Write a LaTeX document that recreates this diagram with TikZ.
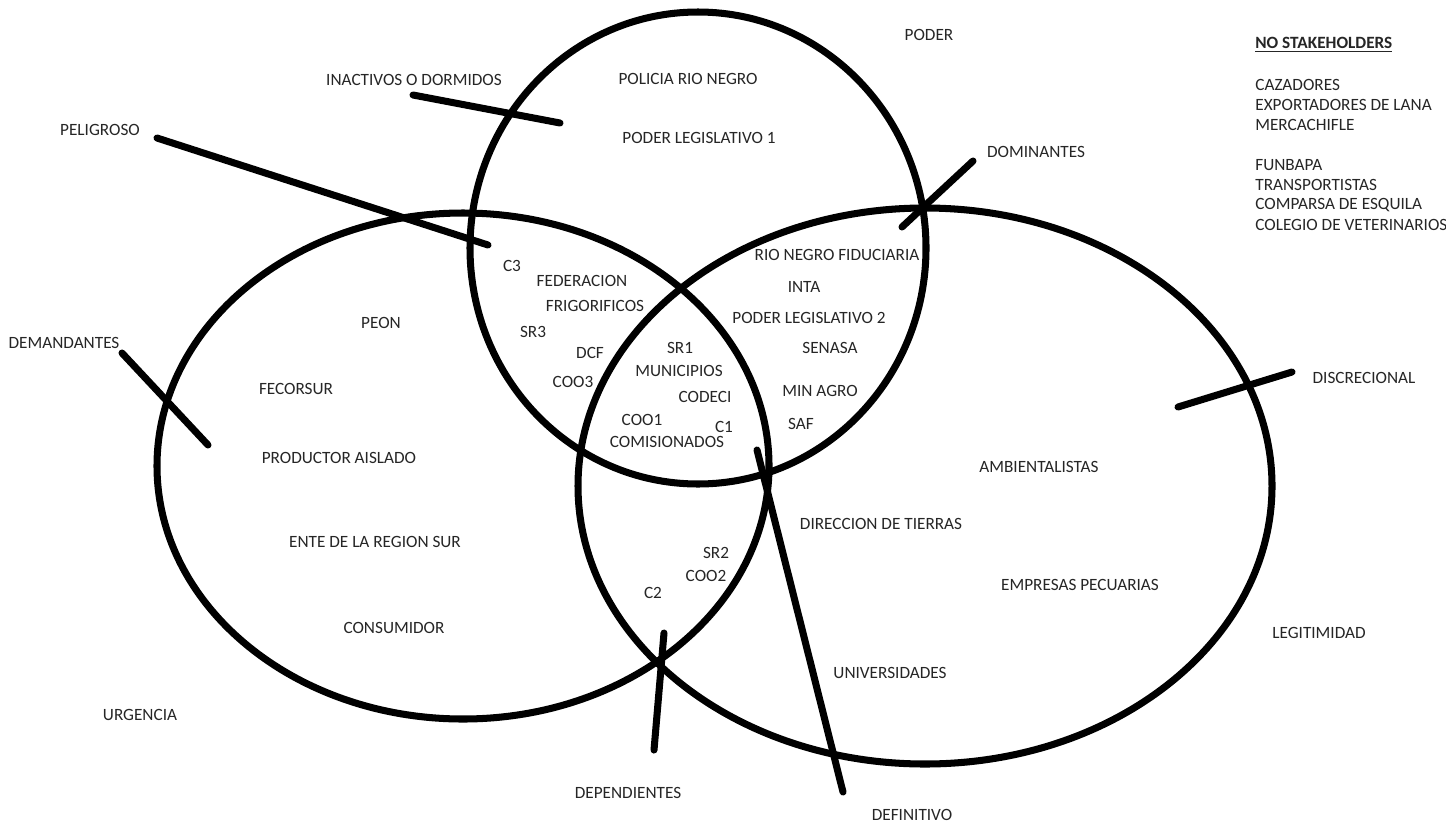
\documentclass[tikz,border=0pt]{standalone}
\usepackage{fontspec}
\setmainfont{Carlito}
\begin{document}
\begin{tikzpicture}[x=0.02cm,y=-0.02cm,
  lbl/.style={font=\fontsize{9.8}{11}\selectfont, inner sep=0pt, text=black!85},
  lst/.style={lbl, anchor=west},
  stroke/.style={line width=4pt, line cap=round, black}]
\useasboundingbox[fill=white] (0,0) rectangle (1446,825);
% sets
\draw[stroke] (698,248) ellipse [x radius=228, y radius=236];
\draw[stroke] (463,466) ellipse [x radius=306, y radius=253];
\draw[stroke] (925,486) ellipse [x radius=347, y radius=278];
% crossing strokes
\coordinate (ina1) at (413,95);   \coordinate (ina2) at (560,123);
\coordinate (pel1) at (157,138);  \coordinate (pel2) at (488,245);
\coordinate (dom1) at (902,227);  \coordinate (dom2) at (973,161);
\coordinate (dem1) at (122,353);  \coordinate (dem2) at (208,445);
\coordinate (dis1) at (1178,407); \coordinate (dis2) at (1292,372);
\coordinate (dep1) at (664,633);  \coordinate (dep2) at (654,750);
\coordinate (def1) at (757,450);  \coordinate (def2) at (843,792);
\draw[stroke] (ina1) -- (ina2);
\draw[stroke] (pel1) -- (pel2);
\draw[stroke] (dom1) -- (dom2);
\draw[stroke] (dem1) -- (dem2);
\draw[stroke] (dis1) -- (dis2);
\draw[stroke] (dep1) -- (dep2);
\draw[stroke] (def1) -- (def2);
% outer labels
\node[lbl] (poder) at (929,35) {PODER};
\node[lbl] (inact) at (414,80) {INACTIVOS O DORMIDOS};
\node[lbl] (pelig) at (100,130) {PELIGROSO};
\node[lbl] (domin) at (1036,152) {DOMINANTES};
\node[lbl] (deman) at (64,343) {DEMANDANTES};
\node[lbl] (discr) at (1364,378) {DISCRECIONAL};
\node[lbl] (legit) at (1319,633) {LEGITIMIDAD};
\node[lbl] (urgen) at (140,715) {URGENCIA};
\node[lbl] (depen) at (628,793) {DEPENDIENTES};
\node[lbl] (defin) at (912,815) {DEFINITIVO};
% no stakeholders
\node[lst] (nosh) at (1255,45) {\underline{\textbf{NO STAKEHOLDERS}}};
\node[lst] (caz) at (1255,85) {CAZADORES};
\node[lst] (exp) at (1255,105) {EXPORTADORES DE LANA};
\node[lst] (mer) at (1255,125) {MERCACHIFLE};
\node[lst] (fun) at (1255,165) {FUNBAPA};
\node[lst] (tra) at (1255,185) {TRANSPORTISTAS};
\node[lst] (com) at (1255,205) {COMPARSA DE ESQUILA};
\node[lst] (col) at (1255,225) {COLEGIO DE VETERINARIOS};
% poder only
\node[lbl] (pol) at (688,79) {POLICIA RIO NEGRO};
\node[lbl] (pl1) at (699,138) {PODER LEGISLATIVO 1};
% poder + urgencia
\node[lbl] (c3) at (512,266) {C3};
\node[lbl] (fed) at (582,281) {FEDERACION};
\node[lbl] (fri) at (595,306) {FRIGORIFICOS};
\node[lbl] (sr3) at (533,332) {SR3};
\node[lbl] (dcf) at (590,353) {DCF};
\node[lbl] (coo3) at (573,382) {COO3};
% all three
\node[lbl] (sr1) at (680,348) {SR1};
\node[lbl] (mun) at (679,371) {MUNICIPIOS};
\node[lbl] (cod) at (705,397) {CODECI};
\node[lbl] (coo1) at (642,420) {COO1};
\node[lbl] (c1) at (724,427) {C1};
\node[lbl] (comi) at (667,442) {COMISIONADOS};
% poder + legitimidad
\node[lbl] (rnf) at (837,255) {RIO NEGRO FIDUCIARIA};
\node[lbl] (inta) at (804,287) {INTA};
\node[lbl] (pl2) at (809,318) {PODER LEGISLATIVO 2};
\node[lbl] (sen) at (830,348) {SENASA};
\node[lbl] (min) at (820,391) {MIN AGRO};
\node[lbl] (saf) at (801,424) {SAF};
% urgencia only
\node[lbl] (peon) at (381,323) {PEON};
\node[lbl] (fec) at (296,389) {FECORSUR};
\node[lbl] (pro) at (339,458) {PRODUCTOR AISLADO};
\node[lbl] (ente) at (375,542) {ENTE DE LA REGION SUR};
\node[lbl] (cons) at (394,628) {CONSUMIDOR};
% urgencia + legitimidad
\node[lbl] (sr2) at (716,553) {SR2};
\node[lbl] (coo2) at (706,576) {COO2};
\node[lbl] (c2) at (653,593) {C2};
% legitimidad only
\node[lbl] (amb) at (1039,467) {AMBIENTALISTAS};
\node[lbl] (dir) at (881,524) {DIRECCION DE TIERRAS};
\node[lbl] (emp) at (1080,585) {EMPRESAS PECUARIAS};
\node[lbl] (uni) at (890,673) {UNIVERSIDADES};
\end{tikzpicture}
\end{document}
